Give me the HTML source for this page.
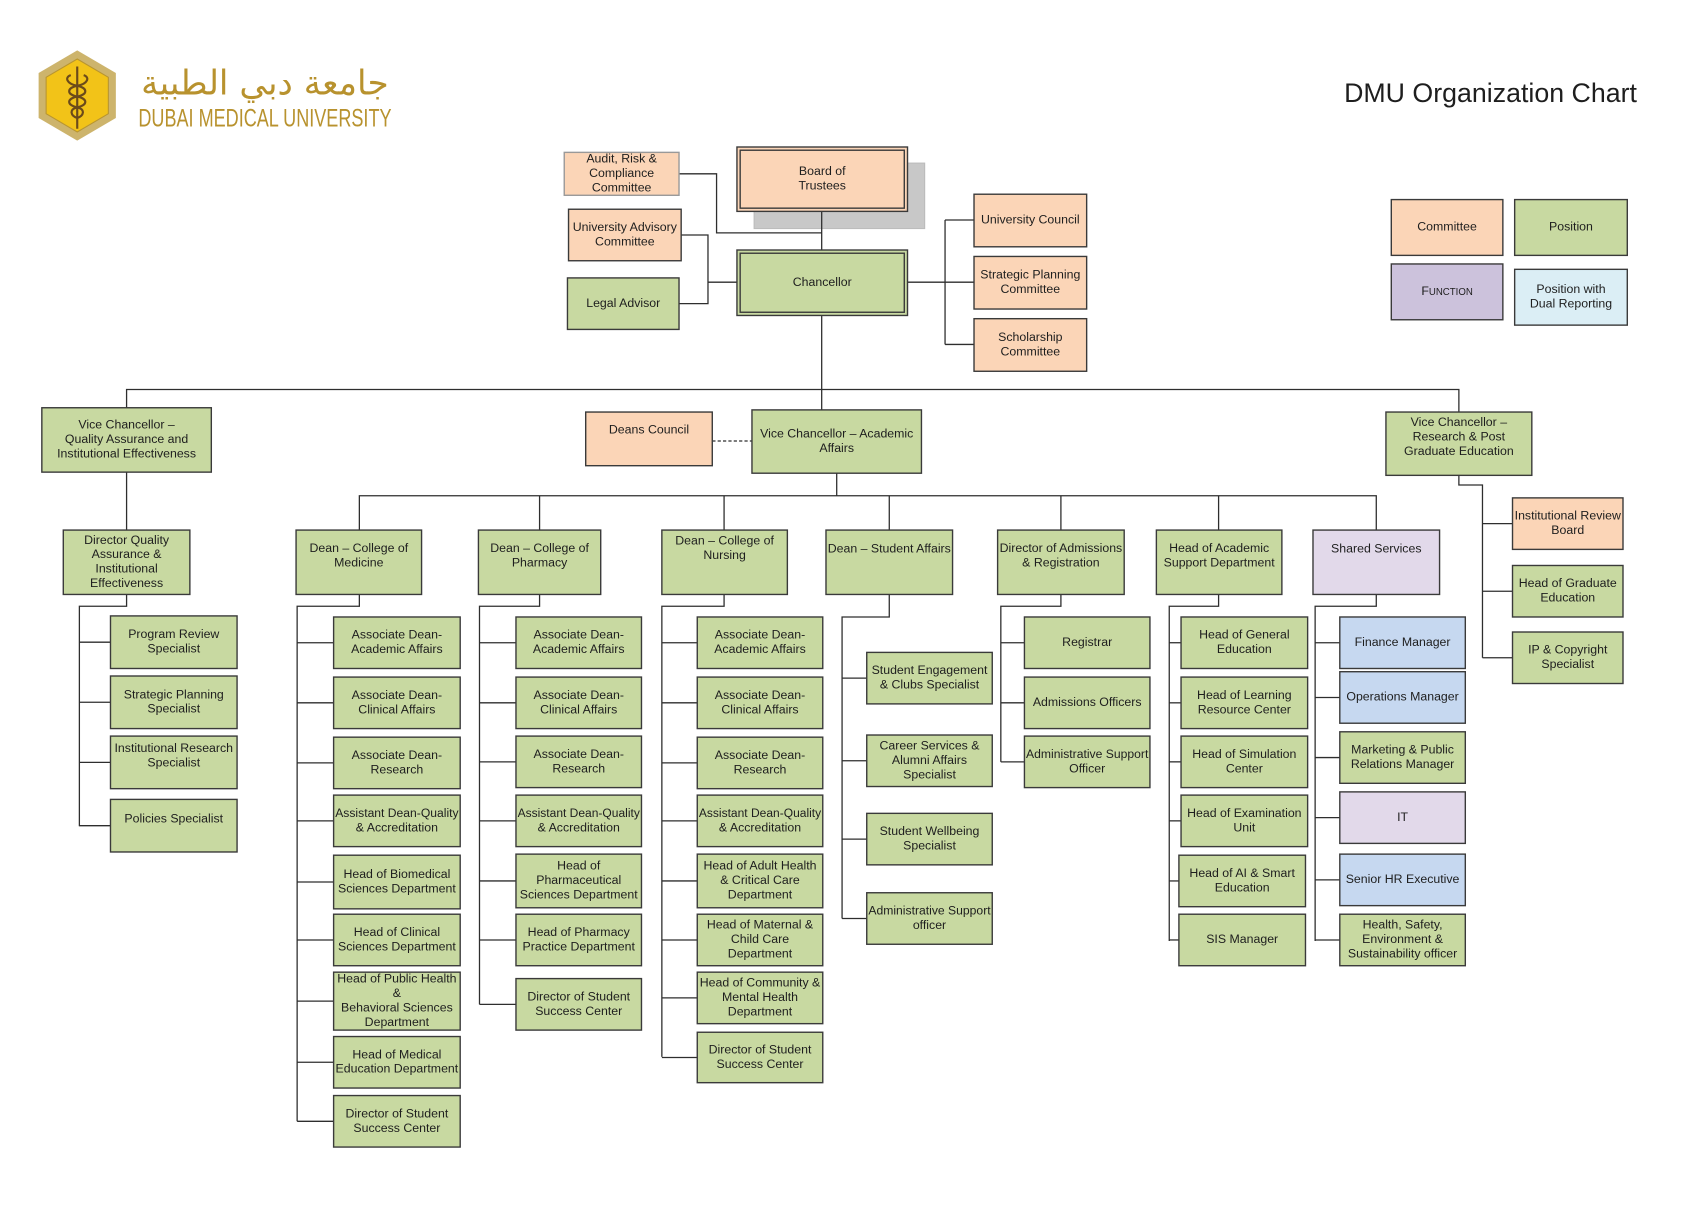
<!DOCTYPE html>
<html><head><meta charset="utf-8"><style>
html,body{margin:0;padding:0;background:#fff;width:1682px;height:1205px;overflow:hidden}
svg{display:block}
text{font-family:"Liberation Sans",Arial,sans-serif;fill:#1e1e1e}
</style></head><body>
<svg id="s" width="1682" height="1205" viewBox="0 0 1568 1123" preserveAspectRatio="none" xmlns="http://www.w3.org/2000/svg">
<rect width="1568" height="1123" fill="#fff"/>
<!-- logo -->
<polygon points="72,47 108,68 108,110 72,131 36,110 36,68" fill="#cdb46c"/>
<polygon points="72,55 101,72 101,106 72,123 43,106 43,72" fill="#f2c318" stroke="#b89530" stroke-width="1"/>
<path d="M72,62 L72,120 M66,70 C60,72 62,78 72,80 C82,82 82,88 72,90 C62,92 62,98 72,100 C80,102 78,108 72,110 M78,70 C84,72 82,78 72,80 C62,82 62,88 72,90 C82,92 82,98 72,100 C64,102 66,108 72,110" fill="none" stroke="#6b4a1a" stroke-width="2"/>
<text x="247" y="88" text-anchor="middle" font-size="32" style="fill:#b8922e;font-family:'DejaVu Sans',sans-serif">جامعة دبي الطبية</text>
<text x="129" y="118" font-size="23" textLength="236" lengthAdjust="spacingAndGlyphs" style="fill:#b8922e">DUBAI MEDICAL UNIVERSITY</text>
<text x="1253" y="95" font-size="25" textLength="273" lengthAdjust="spacingAndGlyphs">DMU Organization Chart</text>
<rect x="703" y="152" width="159" height="61" fill="#c8c8c8" stroke="#bbb"/>
<g id="lines" fill="none" stroke="#2e2e2e" stroke-width="1.2"></g>
<g id="boxes"></g>
</svg>
<script>
var G="#c8d9a1",P="#fbd5b7",U="#e2d9ea",UL="#ccc2dc",B="#c6d8f0",L="#dbeef5";
var L_=[
"633,162 668,162 668,217 766,217","766,197 766,233",
"635,219 660,219 660,283 633,283","660,263 687,263",
"846,263 881,263","881,205 881,321","881,205 908,205","881,263 908,263","881,321 908,321",
"766,294 766,382","118,380 118,363 1360,363 1360,384",
"780,441 780,462","335,494 335,462 1283,462 1283,494","503,462 503,494","675,462 675,494","829,462 829,494","989,462 989,494","1136,462 1136,494",
"118,440 118,494","118,554 118,565 74,565 74,770",
"335,554 335,565 277,565 277,1045","503,554 503,565 447,565 447,936","675,554 675,565 617,565 617,985",
"829,554 829,575 785,575 785,856","989,554 989,565 933,565 933,710","1136,554 1136,565 1090,565 1090,877","1283,554 1283,565 1226,565 1226,877",
"1360,443 1360,452 1382,452 1382,613","1382,488 1410,488","1382,551 1410,551","1382,613 1410,613"
];
var bx=[
[526,142,633,182,P,["Audit, Risk &","Compliance","Committee"],0,"#999"],
[687,137,846,197,P,["Board of","Trustees"],0,0,1],
[530,195,635,243,P,["University Advisory","Committee"]],
[529,259,633,307,G,["Legal Advisor"]],
[687,233,846,294,G,["Chancellor"],0,0,1],
[908,181,1013,230,P,["University Council"]],
[908,239,1013,288,P,["Strategic Planning","Committee"]],
[908,297,1013,346,P,["Scholarship","Committee"]],
[1297,186,1401,238,P,["Committee"]],
[1412,186,1517,238,G,["Position"]],
[1297,246,1401,298,UL,["F"]],
[1412,251,1517,303,L,["Position with","Dual Reporting"]],
[39,380,197,440,G,["Vice Chancellor –","Quality Assurance and","Institutional Effectiveness"]],
[546,384,664,434,P,["Deans  Council"],-8],
[701,382,859,441,G,["Vice Chancellor – Academic","Affairs"]],
[1292,384,1428,443,G,["Vice Chancellor –","Research & Post","Graduate Education"],-6],
[59,494,177,554,G,["Director Quality","Assurance &","Institutional","Effectiveness"]],
[276,494,393,554,G,["Dean – College of","Medicine"],-6],
[446,494,560,554,G,["Dean – College of","Pharmacy"],-6],
[617,494,734,554,G,["Dean – College of","Nursing"],-13],
[770,494,888,554,G,["Dean – Student  Affairs"],-12],
[930,494,1048,554,G,["Director of Admissions","& Registration"],-6],
[1078,494,1195,554,G,["Head of Academic","Support Department"],-6],
[1224,494,1342,554,U,["Shared Services"],-12],
[1410,464,1513,512,P,["Institutional Review","Board"]],
[1410,527,1513,575,G,["Head of Graduate","Education"]],
[1410,589,1513,637,G,["IP & Copyright","Specialist"]]
];
function kids(x1,x2,bus,list){list.forEach(function(k){bx.push([x1,k[0],x2,k[1],k[3]||G,k[2],k[4]||0]);L_.push(bus+","+((k[0]+k[1])/2)+" "+x1+","+((k[0]+k[1])/2));});}
kids(103,221,74,[[574,623,["Program Review","Specialist"]],[630,679,["Strategic Planning","Specialist"]],[686,735,["Institutional Research","Specialist"],0,-6],[745,794,["Policies Specialist"],0,-6]]);
kids(311,429,277,[[575,623,["Associate Dean-","Academic  Affairs"]],[631,679,["Associate Dean-","Clinical Affairs"]],[687,735,["Associate Dean-","Research"]],[741,789,["Assistant Dean-Quality","& Accreditation"]],[797,847,["Head of Biomedical","Sciences Department"]],[852,900,["Head of Clinical","Sciences Department"]],[906,960,["Head of Public Health","&","Behavioral  Sciences","Department"]],[966,1014,["Head of Medical","Education Department"]],[1021,1069,["Director of Student","Success Center"]]]);
kids(481,598,447,[[575,623,["Associate Dean-","Academic Affairs"]],[631,679,["Associate Dean-","Clinical Affairs"]],[686,734,["Associate Dean-","Research"]],[741,789,["Assistant Dean-Quality","& Accreditation"]],[796,846,["Head of","Pharmaceutical","Sciences Department"]],[852,900,["Head of Pharmacy","Practice Department"]],[912,960,["Director of Student","Success Center"]]]);
kids(650,767,617,[[575,623,["Associate Dean-","Academic Affairs"]],[631,679,["Associate Dean-","Clinical Affairs"]],[687,735,["Associate Dean-","Research"]],[741,789,["Assistant Dean-Quality","& Accreditation"]],[796,846,["Head of Adult Health","& Critical Care","Department"]],[852,900,["Head of Maternal &","Child Care","Department"]],[906,954,["Head of Community  &","Mental Health","Department"]],[962,1009,["Director of Student","Success Center"]]]);
kids(808,925,785,[[608,656,["Student Engagement","& Clubs Specialist"]],[685,733,["Career Services &","Alumni Affairs","Specialist"]],[758,806,["Student Wellbeing","Specialist"]],[832,880,["Administrative  Support","officer"]]]);
kids(955,1072,933,[[575,623,["Registrar"]],[631,679,["Admissions Officers"]],[686,734,["Administrative Support","Officer"]]]);
kids(1101,1219,1090,[[575,623,["Head of General","Education"]],[631,679,["Head of Learning","Resource Center"]],[686,734,["Head of Simulation","Center"]],[741,789,["Head of Examination","Unit"]]]);
kids(1099,1217,1090,[[797,845,["Head of AI & Smart","Education"]],[852,900,["SIS Manager"]]]);
kids(1249,1366,1226,[[575,623,["Finance Manager"],B],[626,674,["Operations Manager"],B],[682,730,["Marketing & Public","Relations Manager"]],[738,786,["IT"],U],[796,844,["Senior HR Executive"],B],[852,900,["Health, Safety,","Environment  &","Sustainability officer"]]]);
var NS="http://www.w3.org/2000/svg",lg=document.getElementById("lines"),bg=document.getElementById("boxes");
function el(t,a,p){var e=document.createElementNS(NS,t);for(var k in a)e.setAttribute(k,a[k]);p.appendChild(e);return e;}
L_.forEach(function(p){el("polyline",{points:p},lg);});
el("line",{x1:664,y1:411,x2:701,y2:411,"stroke-dasharray":"3,2"},lg);
bx.forEach(function(b){
 var x1=b[0],y1=b[1],x2=b[2],y2=b[3];
 el("rect",{x:x1,y:y1,width:x2-x1,height:y2-y1,fill:b[4],stroke:b[7]||"#3a3a3a","stroke-width":1.3},bg);
 if(b[8])el("rect",{x:x1+3,y:y1+3,width:x2-x1-6,height:y2-y1-6,fill:"none",stroke:"#3a3a3a","stroke-width":1.3},bg);
 var n=b[5].length,lh=13.5,cy=(y1+y2)/2+(b[6]||0)-1,fs=11.5;
 var w=x2-x1;
 b[5].forEach(function(s,i){
  var t=el("text",{x:(x1+x2)/2,y:cy-(n-1)*lh/2+i*lh+4,"text-anchor":"middle","font-size":fs},bg);
  if(s=="F"){t.textContent="F";var ts=el("tspan",{"font-size":9},t);ts.textContent="UNCTION";}
  else t.textContent=s;
  try{var tw=t.getComputedTextLength();if(tw>w-2){t.setAttribute("textLength",w-3);t.setAttribute("lengthAdjust","spacingAndGlyphs");}}catch(e){}
 });
});
</script>
</body></html>
